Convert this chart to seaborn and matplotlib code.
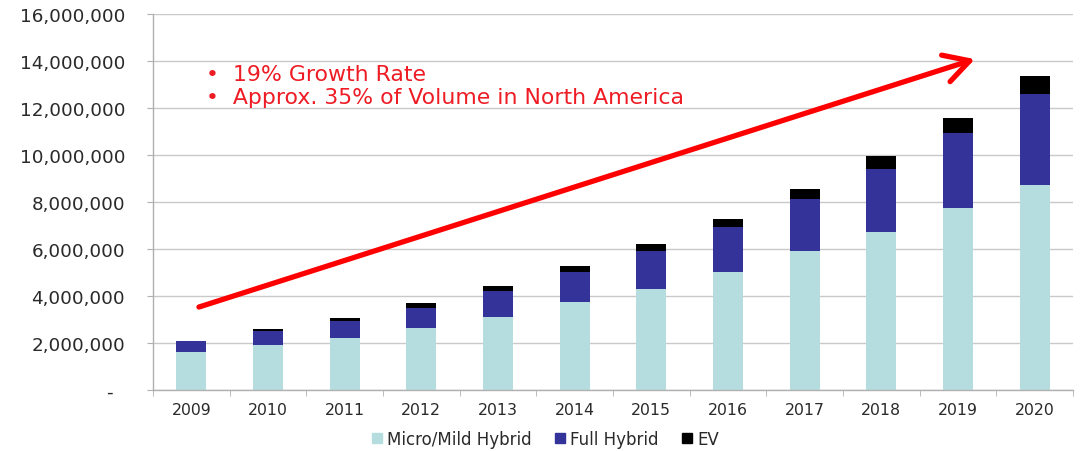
import matplotlib
matplotlib.use("Agg")
import matplotlib.pyplot as plt
from matplotlib.lines import Line2D
import seaborn as sns
import pandas as pd
import numpy as np

years = ["2009", "2010", "2011", "2012", "2013", "2014", "2015", "2016",
         "2017", "2018", "2019", "2020"]
micro_mild = [1600000, 1910000, 2230000, 2620000, 3120000, 3730000,
              4300000, 5010000, 5930000, 6710000, 7730000, 8720000]
full_hybrid = [490000, 610000, 690000, 870000, 1090000, 1280000,
               1630000, 1910000, 2200000, 2690000, 3190000, 3880000]
ev = [10000, 80000, 140000, 210000, 230000, 250000,
      280000, 360000, 420000, 570000, 640000, 770000]
series_names = ["Micro/Mild Hybrid", "Full Hybrid", "EV"]
y_ticks = [0, 2000000, 4000000, 6000000, 8000000, 10000000, 12000000,
           14000000, 16000000]
notes = ["•  19% Growth Rate", "•  Approx. 35% of Volume in North America"]

colors = ["#b5dde0", "#33339a", "#000000"]

df = pd.DataFrame({"year": years, "micro": micro_mild,
                   "full": full_hybrid, "ev": ev})
df["lvl1"] = df["micro"]
df["lvl2"] = df["micro"] + df["full"]
df["lvl3"] = df["lvl2"] + df["ev"]

sns.set_style("white")
plt.rcParams["font.family"] = ["DejaVu Sans"]

fig = plt.figure(figsize=(10.81, 4.52), dpi=100)
ax = fig.add_axes([0.1415, 0.135, 0.8511, 0.8318])

for col, c in zip(["lvl3", "lvl2", "lvl1"], [colors[2], colors[1], colors[0]]):
    sns.barplot(data=df, x="year", y=col, color=c, width=0.39,
                saturation=1, ax=ax, linewidth=0)

ax.set_xlim(-0.5, 11.5)
ax.set_ylim(0, 16000000)
ax.set_yticks(y_ticks)
ax.set_yticklabels([("-  " if v == 0 else f"{v:,}") for v in y_ticks],
                   fontsize=13.2, color="#2a2a2a")
ax.set_xticks(range(len(years)))
ax.set_xticklabels(years, fontsize=11.3, color="#2a2a2a")
ax.set_xlabel("")
ax.set_ylabel("")

ax.yaxis.grid(True, color="#c9c9c9", linewidth=1)
ax.set_axisbelow(True)
for s in ["top", "right"]:
    ax.spines[s].set_visible(False)
for s in ["left", "bottom"]:
    ax.spines[s].set_color("#b0b0b0")
    ax.spines[s].set_linewidth(1)

ax.tick_params(axis="y", which="major", length=4, color="#b0b0b0", pad=16,
               left=True, direction="out")
ax.tick_params(axis="x", which="major", length=0, pad=9)
ax.set_xticks(np.arange(-0.5, 11.6, 1.0), minor=True)
ax.tick_params(axis="x", which="minor", length=4, color="#b0b0b0",
               bottom=True, direction="out")

# growth arrow
ax.annotate("", xy=(10.22, 14080000), xytext=(0.1, 3530000),
            arrowprops=dict(arrowstyle="->,head_length=0.9,head_width=0.5",
                            color="#ff0000", lw=3.8, mutation_scale=20,
                            shrinkA=0, shrinkB=0))

fig.text(206 / 1081, 1 - 75 / 452, notes[0], color="#ee1c24", fontsize=15.8,
         va="center", ha="left")
fig.text(206 / 1081, 1 - 98 / 452, notes[1], color="#ee1c24", fontsize=15.8,
         va="center", ha="left")

handles = [Line2D([0], [0], marker="s", linestyle="", markersize=7,
                  markerfacecolor=c, markeredgecolor=c) for c in colors]
fig.legend(handles, series_names, loc="center", bbox_to_anchor=(0.503, 1 - 440 / 452),
           ncol=3, frameon=False, fontsize=12, handletextpad=0.1,
           columnspacing=1.2, handlelength=1.0, labelcolor="#2a2a2a")

fig.savefig("out.png", dpi=100)
